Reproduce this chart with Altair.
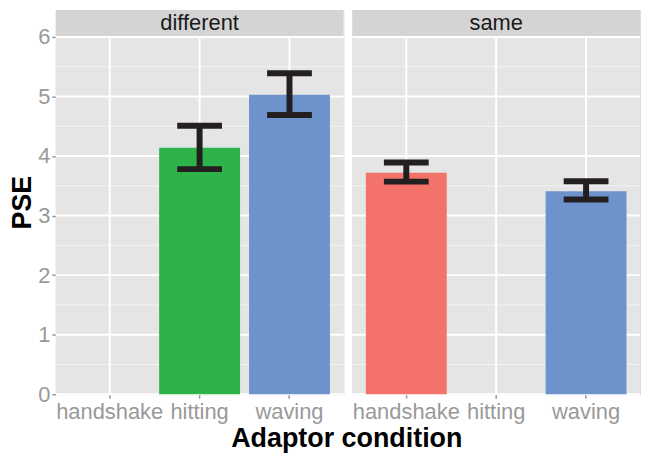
import altair as alt
import pandas as pd

# ---- data ----
panels = ["different", "same"]
categories = ["handshake", "hitting", "waving"]
cat_colors = ["#F3736A", "#2EB34B", "#6E93CC"]

diff_cats = ["hitting", "waving"]
diff_pse = [4.14, 5.03]
diff_lo = [3.78, 4.69]
diff_hi = [4.51, 5.39]

same_cats = ["handshake", "waving"]
same_pse = [3.72, 3.41]
same_lo = [3.57, 3.27]
same_hi = [3.89, 3.575]

y_ticks = [0, 1, 2, 3, 4, 5, 6]
y_minor = [0.5, 1.5, 2.5, 3.5, 4.5, 5.5]

# ---- layout ----
FONT = "Liberation Sans"
W = 289
PXU = 59.8               # pixels per PSE unit
STRIP = 26
YTOP = 6 + (STRIP + 1) / PXU
H = int(round(YTOP * PXU))
STRIP_LO = 6 + 1 / PXU
STRIP_MID = (STRIP_LO + YTOP) / 2

y_scale = alt.Scale(domain=[0, YTOP], nice=False, zero=True)
x_scale = alt.Scale(domain=categories, paddingInner=0.1, paddingOuter=0.15)
color_scale = alt.Scale(domain=categories, range=cat_colors)

x_axis = alt.Axis(title=None, labelAngle=0, labelFontSize=22, labelColor="#999999",
                  labelFont=FONT, tickColor="#999999", tickSize=4, tickWidth=1.5,
                  domain=False, grid=False, labelPadding=3, labelOverlap=False,
                  labelFlush=False)


def y_axis(show):
    if not show:
        return None
    return alt.Axis(values=y_ticks, title="PSE", titleFontSize=27, titleFontWeight="bold",
                    titleColor="#000000", titleFont=FONT, labelFontSize=22,
                    labelColor="#999999", labelFont=FONT, tickColor="#999999",
                    tickSize=4, tickWidth=1.5, domain=False, grid=False,
                    titlePadding=1, labelPadding=2, format="d")


def panel(name, cats, pse, lo, hi, show_y):
    ya = y_axis(show_y)
    bars = pd.DataFrame({"cat": cats, "pse": pse, "lo": lo, "hi": hi})
    bg = pd.DataFrame({"a": [0], "b": [6], "s1": [STRIP_LO], "s2": [YTOP],
                       "mid": [STRIP_MID], "label": [name]})
    major = pd.DataFrame({"v": y_ticks})
    minor = pd.DataFrame({"v": y_minor})
    vert = pd.DataFrame({"cat": categories, "a": [0] * 3, "b": [6] * 3})

    def Y(field):
        return alt.Y(field, scale=y_scale, axis=ya)

    def X(field):
        return alt.X(field, scale=x_scale, axis=x_axis, sort=categories)

    l_bg = alt.Chart(bg).mark_rect(color="#E5E5E5").encode(
        x=alt.value(0), x2=alt.value(W), y=Y("a:Q"), y2="b:Q")
    l_minor = alt.Chart(minor).mark_rule(color="#F3F3F3", strokeWidth=1).encode(
        x=alt.value(0), x2=alt.value(W), y=Y("v:Q"))
    l_major = alt.Chart(major).mark_rule(color="#FFFFFF", strokeWidth=2).encode(
        x=alt.value(0), x2=alt.value(W), y=Y("v:Q"))
    l_vert = alt.Chart(vert).mark_rule(color="#FFFFFF", strokeWidth=2).encode(
        x=X("cat:N"), y=Y("a:Q"), y2="b:Q")
    l_bars = alt.Chart(bars).mark_bar().encode(
        x=X("cat:N"), y=Y("pse:Q"), y2=alt.datum(0),
        color=alt.Color("cat:N", scale=color_scale, legend=None))
    l_err = alt.Chart(bars).mark_rule(color="#231F20", strokeWidth=6).encode(
        x=X("cat:N"), y=Y("lo:Q"), y2="hi:Q")
    l_cap_lo = alt.Chart(bars).mark_tick(color="#231F20", size=45, thickness=6,
                                         opacity=1, orient="horizontal").encode(
        x=X("cat:N"), y=Y("lo:Q"))
    l_cap_hi = alt.Chart(bars).mark_tick(color="#231F20", size=45, thickness=6,
                                         opacity=1, orient="horizontal").encode(
        x=X("cat:N"), y=Y("hi:Q"))
    l_strip = alt.Chart(bg).mark_rect(color="#D4D4D4").encode(
        x=alt.value(0), x2=alt.value(W), y=Y("s1:Q"), y2="s2:Q")
    l_label = alt.Chart(bg).mark_text(fontSize=22, font=FONT, color="#1A1A1A",
                                      baseline="middle", align="center").encode(
        x=alt.value(W / 2), y=Y("mid:Q"), text="label:N")

    return alt.layer(l_bg, l_minor, l_major, l_vert, l_bars, l_err, l_cap_lo,
                     l_cap_hi, l_strip, l_label).properties(width=W, height=H)


left = panel(panels[0], diff_cats, diff_pse, diff_lo, diff_hi, True)
right = panel(panels[1], same_cats, same_pse, same_lo, same_hi, False)

chart = alt.hconcat(left, right, spacing=5).properties(
    padding={"left": 0, "top": 0, "right": 0, "bottom": 0},
    title=alt.TitleParams("Adaptor condition", orient="bottom", anchor="middle",
                          fontSize=27, fontWeight="bold", font=FONT, color="#000000",
                          offset=4, dx=22),
).configure_view(strokeWidth=0).configure(background="#FFFFFF")

chart.save("out.html", embed_options={"renderer": "svg", "actions": False})
